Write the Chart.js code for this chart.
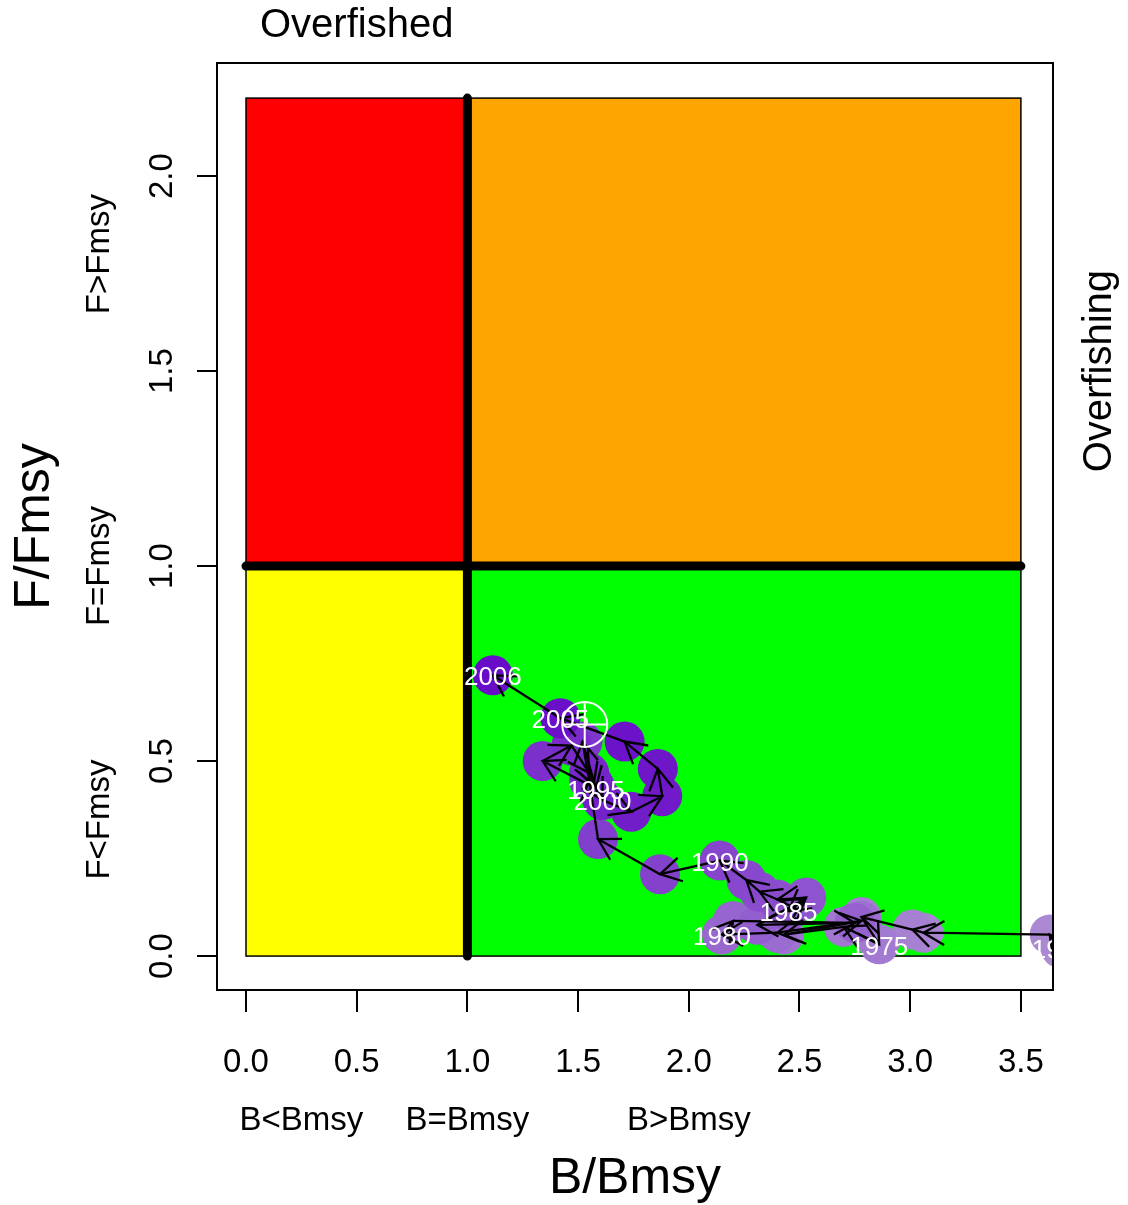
<!DOCTYPE html>
<html>
<head>
<meta charset="utf-8">
<title>Kobe plot</title>
<script src="https://cdn.jsdelivr.net/npm/chart.js@4.4.1/dist/chart.umd.min.js"></script>
<style>
  html, body { margin: 0; padding: 0; background: #ffffff; }
  canvas { display: block; }
</style>
</head>
<body>
<canvas id="kobe" width="1128" height="1205"></canvas>
<script>
// ---- stock trajectory: biomass and fishing mortality relative to MSY levels ----
const years = [1970, 1971, 1972, 1973, 1974, 1975, 1976, 1977, 1978, 1979,
               1980, 1981, 1982, 1983, 1984, 1985, 1986, 1987, 1988, 1989,
               1990, 1991, 1992, 1993, 1994, 1995, 1996, 1997, 1998, 1999,
               2000, 2001, 2002, 2003, 2004, 2005, 2006];
const bRatio = [3.68, 3.63, 3.06, 3.01, 2.78, 2.86, 2.70, 2.43, 2.78, 2.40,
                2.15, 2.20, 2.75, 2.31, 2.52, 2.45, 2.53, 2.40, 2.32, 2.26,
                2.14, 1.87, 1.59, 1.55, 1.52, 1.58, 1.34, 1.47, 1.55, 1.57,
                1.61, 1.74, 1.88, 1.86, 1.71, 1.42, 1.115];
const fRatio = [0.020, 0.055, 0.060, 0.068, 0.100, 0.030, 0.075, 0.055, 0.090, 0.060,
                0.055, 0.090, 0.085, 0.080, 0.145, 0.115, 0.150, 0.145, 0.165, 0.195,
                0.245, 0.210, 0.300, 0.450, 0.550, 0.430, 0.500, 0.540, 0.470, 0.440,
                0.400, 0.370, 0.410, 0.480, 0.550, 0.610, 0.720];
const labelYears = [1970, 1975, 1980, 1985, 1990, 1995, 2000, 2005, 2006];

// reference point marked with a crosshair
const refPoint = [1.53, 0.594];

// axis ticks
const xTicks = [0, 0.5, 1, 1.5, 2, 2.5, 3, 3.5];
const yTicks = [0, 0.5, 1, 1.5, 2];

// quadrant edges and fills (rows: F below / above Fmsy, columns: B below / above Bmsy)
const bBreaks = [0, 1, 3.5];
const fBreaks = [0, 1, 2.2];
const zoneColors = [['#FFFF00', '#00FF00'], ['#FF0000', '#FFA500']];

// status captions along the axes
const bZoneText = ['B<Bmsy', 'B=Bmsy', 'B>Bmsy'];
const bZoneAt = [0.25, 1, 2];
const fZoneText = ['F<Fmsy', 'F=Fmsy', 'F>Fmsy'];
const fZoneAt = [0.35, 1, 1.8];

const FONT = '"Liberation Sans", Arial, Helvetica, sans-serif';

// light lavender for early years through deep violet for recent years
const lightRGB = [172, 140, 210];
const darkRGB = [104, 12, 200];
const pointColors = years.map((_, i) => {
  const t = i / (years.length - 1);
  const c = lightRGB.map((v, k) => Math.round(v + (darkRGB[k] - v) * t));
  return `rgb(${c[0]},${c[1]},${c[2]})`;
});

const kobePlugin = {
  id: 'kobe',
  beforeDatasetsDraw(chart) {
    const { ctx, scales: { x, y } } = chart;
    ctx.save();
    // quadrants
    for (let r = 0; r < 2; r++) {
      for (let c = 0; c < 2; c++) {
        const x0 = x.getPixelForValue(bBreaks[c]);
        const x1 = x.getPixelForValue(bBreaks[c + 1]);
        const y0 = y.getPixelForValue(fBreaks[r]);
        const y1 = y.getPixelForValue(fBreaks[r + 1]);
        ctx.fillStyle = zoneColors[r][c];
        ctx.fillRect(x0, y1, x1 - x0, y0 - y1);
        ctx.lineWidth = 1.5;
        ctx.strokeStyle = '#000';
        ctx.strokeRect(x0, y1, x1 - x0, y0 - y1);
      }
    }
    // Bmsy and Fmsy limits
    ctx.lineWidth = 9;
    ctx.lineCap = 'round';
    ctx.strokeStyle = '#000';
    ctx.beginPath();
    ctx.moveTo(x.getPixelForValue(1), y.getPixelForValue(fBreaks[0]));
    ctx.lineTo(x.getPixelForValue(1), y.getPixelForValue(fBreaks[2]));
    ctx.moveTo(x.getPixelForValue(bBreaks[0]), y.getPixelForValue(1));
    ctx.lineTo(x.getPixelForValue(bBreaks[2]), y.getPixelForValue(1));
    ctx.stroke();
    ctx.restore();
  },
  afterDatasetsDraw(chart) {
    const { ctx, scales: { x, y }, chartArea } = chart;
    ctx.save();
    ctx.beginPath();
    ctx.rect(chartArea.left, chartArea.top, chartArea.right - chartArea.left, chartArea.bottom - chartArea.top);
    ctx.clip();

    const px = bRatio.map(v => x.getPixelForValue(v));
    const py = fRatio.map(v => y.getPixelForValue(v));

    // year-to-year arrows
    ctx.strokeStyle = '#000';
    ctx.lineWidth = 2.3;
    ctx.lineCap = 'butt';
    const head = 24, ang = Math.PI / 6;
    for (let i = 1; i < years.length; i++) {
      const x0 = px[i - 1], y0 = py[i - 1], x1 = px[i], y1 = py[i];
      const a = Math.atan2(y1 - y0, x1 - x0);
      ctx.beginPath();
      ctx.moveTo(x0, y0);
      ctx.lineTo(x1, y1);
      ctx.moveTo(x1 - head * Math.cos(a - ang), y1 - head * Math.sin(a - ang));
      ctx.lineTo(x1, y1);
      ctx.lineTo(x1 - head * Math.cos(a + ang), y1 - head * Math.sin(a + ang));
      ctx.stroke();
    }

    // year labels
    ctx.fillStyle = '#ffffff';
    ctx.font = `26px ${FONT}`;
    ctx.textAlign = 'center';
    ctx.textBaseline = 'middle';
    years.forEach((yr, i) => {
      if (labelYears.includes(yr)) ctx.fillText(String(yr), px[i], py[i] + 3);
    });

    // crosshair on the reference point
    const cx = x.getPixelForValue(refPoint[0]);
    const cy = y.getPixelForValue(refPoint[1]);
    const r = 22.5;
    ctx.strokeStyle = '#ffffff';
    ctx.lineWidth = 2;
    ctx.beginPath();
    ctx.arc(cx, cy, r, 0, Math.PI * 2);
    ctx.moveTo(cx - r, cy); ctx.lineTo(cx + r, cy);
    ctx.moveTo(cx, cy - r); ctx.lineTo(cx, cy + r);
    ctx.stroke();
    ctx.restore();
  },
  afterDraw(chart) {
    const { ctx, scales: { x, y }, chartArea } = chart;
    ctx.save();
    // plot frame
    ctx.strokeStyle = '#000';
    ctx.lineWidth = 2;
    ctx.strokeRect(chartArea.left, chartArea.top, chartArea.right - chartArea.left, chartArea.bottom - chartArea.top);

    ctx.fillStyle = '#000';
    ctx.textAlign = 'center';
    ctx.textBaseline = 'middle';

    const vText = (txt, cx, cy, size) => {
      ctx.save();
      ctx.translate(cx, cy);
      ctx.rotate(-Math.PI / 2);
      ctx.font = `${size}px ${FONT}`;
      ctx.fillText(txt, 0, 0);
      ctx.restore();
    };

    // y tick labels (rotated, as on a classic plot)
    y.ticks.forEach(t => vText(t.value.toFixed(1), 163, y.getPixelForValue(t.value), 33));
    // F status captions
    fZoneText.forEach((t, i) => vText(t, 100, y.getPixelForValue(fZoneAt[i]), 33));
    // B status captions
    ctx.font = `33px ${FONT}`;
    bZoneText.forEach((t, i) => ctx.fillText(t, x.getPixelForValue(bZoneAt[i]), 1121));

    // axis titles
    const midX = (chartArea.left + chartArea.right) / 2;
    const midY = (chartArea.top + chartArea.bottom) / 2;
    ctx.font = `50px ${FONT}`;
    ctx.fillText('B/Bmsy', midX, 1179);
    vText('F/Fmsy', 35, midY, 50);

    // region notes
    ctx.font = `40px ${FONT}`;
    ctx.fillText('Overfished', x.getPixelForValue(0.5), 26);
    vText('Overfishing', 1100, y.getPixelForValue(1.5), 40);
    ctx.restore();
  }
};

new Chart(document.getElementById('kobe'), {
  type: 'scatter',
  data: {
    datasets: [{
      data: years.map((_, i) => ({ x: bRatio[i], y: fRatio[i] })),
      pointRadius: 20,
      pointHoverRadius: 20,
      pointBackgroundColor: pointColors,
      pointBorderWidth: 0,
      borderWidth: 0,
      showLine: false
    }]
  },
  options: {
    responsive: false,
    animation: false,
    devicePixelRatio: 1,
    events: [],
    layout: { padding: { top: 63, right: 75, left: 0, bottom: 0 } },
    plugins: { legend: { display: false }, tooltip: { enabled: false } },
    scales: {
      x: {
        type: 'linear',
        min: -0.131,
        max: 3.645,
        afterBuildTicks: s => { s.ticks = xTicks.map(v => ({ value: v })); },
        afterFit: s => { s.height = 215; },
        border: { display: false },
        grid: { drawOnChartArea: false, drawTicks: true, tickLength: 22, color: '#000', lineWidth: 2 },
        ticks: {
          color: '#000',
          font: { family: FONT, size: 33 },
          padding: 31,
          maxRotation: 0,
          callback: v => Number(v).toFixed(1)
        }
      },
      y: {
        type: 'linear',
        min: -0.087,
        max: 2.29,
        afterBuildTicks: s => { s.ticks = yTicks.map(v => ({ value: v })); },
        afterFit: s => { s.width = 217; },
        border: { display: false },
        grid: { drawOnChartArea: false, drawTicks: true, tickLength: 20, color: '#000', lineWidth: 2 },
        ticks: { display: false }
      }
    }
  },
  plugins: [kobePlugin]
});
</script>
</body>
</html>
